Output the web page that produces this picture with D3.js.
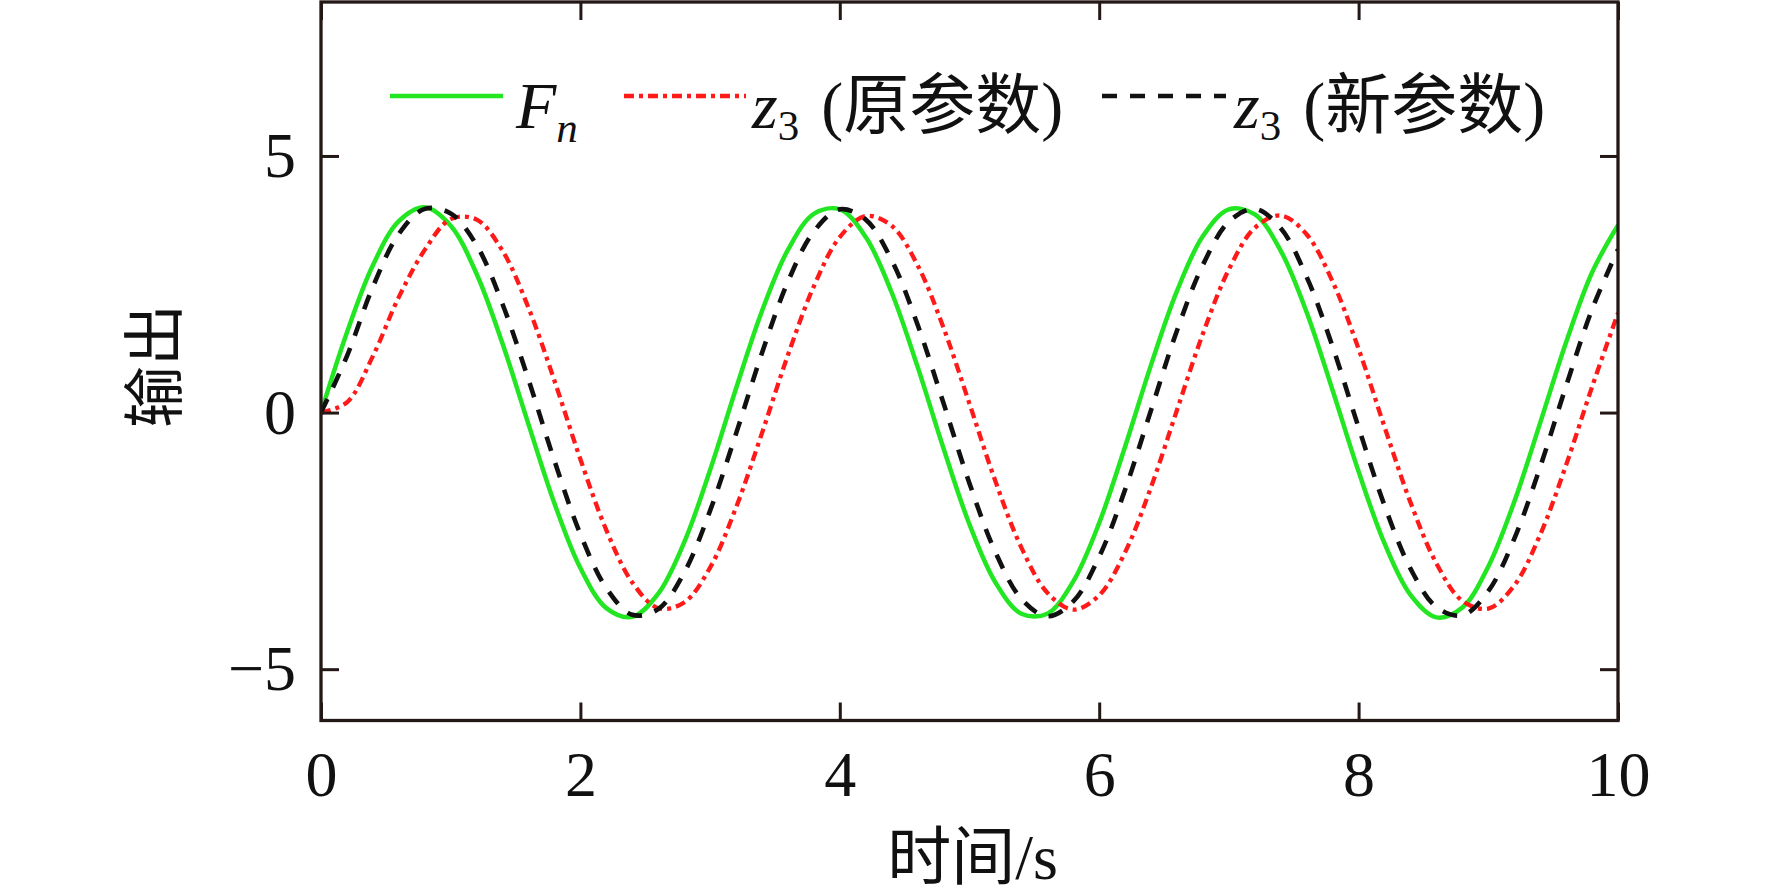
<!DOCTYPE html>
<html>
<head>
<meta charset="utf-8">
<script src="https://cdn.jsdelivr.net/npm/d3@7"></script>
<style>
  body { margin: 0; background: #fff; }
  svg { display: block; }
</style>
</head>
<body>
<div id="chart"></div>
<script>
// time axis (s), sampled every 0.2 s
const time = [0, 0.2, 0.4, 0.6, 0.8, 1.0, 1.2, 1.4, 1.6, 1.8,
    2.0, 2.2, 2.4, 2.6, 2.8, 3.0, 3.2, 3.4, 3.6, 3.8,
    4.0, 4.2, 4.4, 4.6, 4.8, 5.0, 5.2, 5.4, 5.6, 5.8,
    6.0, 6.2, 6.4, 6.6, 6.8, 7.0, 7.2, 7.4, 7.6, 7.8,
    8.0, 8.2, 8.4, 8.6, 8.8, 9.0, 9.2, 9.4, 9.6, 9.8, 10.0];

// F_n
const fn = [0, 1.56, 2.87, 3.73, 4.00, 3.64, 2.70, 1.34, -0.23, -1.77,
    -3.03, -3.81, -3.98, -3.53, -2.53, -1.12, 0.47, 1.98, 3.17, 3.87,
    3.96, 3.42, 2.34, 0.89, -0.70, -2.18, -3.31, -3.92, -3.92, -3.29,
    -2.15, -0.66, 0.93, 2.37, 3.44, 3.96, 3.86, 3.15, 1.95, 0.43,
    -1.15, -2.55, -3.55, -3.99, -3.80, -3.00, -1.74, -0.20, 1.37, 2.73, 3.65];

// z3 (原参数)
const z3Old = [0, 0.20, 1.10, 2.25, 3.17, 3.77, 3.76, 3.15, 2.04, 0.62,
    -0.91, -2.29, -3.31, -3.81, -3.70, -3.02, -1.85, -0.40, 1.12, 2.46,
    3.42, 3.83, 3.64, 2.87, 1.65, 0.17, -1.34, -2.63, -3.51, -3.84,
    -3.56, -2.72, -1.45, 0.05, 1.54, 2.79, 3.60, 3.84, 3.47, 2.55,
    1.24, -0.28, -1.75, -2.94, -3.67, -3.82, -3.37, -2.38, -1.02, 0.50, 1.94];

// z3 (新参数)
const z3New = [0, 1.10, 2.45, 3.48, 3.97, 3.88, 3.26, 2.11, 0.64, -0.94,
    -2.37, -3.42, -3.94, -3.83, -3.12, -1.91, -0.41, 1.16, 2.55, 3.53,
    3.96, 3.76, 2.97, 1.71, 0.18, -1.38, -2.72, -3.63, -3.97, -3.68,
    -2.81, -1.50, 0.05, 1.60, 2.88, 3.72, 3.97, 3.59, 2.64, 1.28,
    -0.29, -1.81, -3.04, -3.79, -3.95, -3.48, -2.46, -1.06, 0.52, 2.01, 3.18];

const xTicks = [0, 2, 4, 6, 8, 10];
const yTicks = [-5, 0, 5];

const W = 1772, H = 895;
const plotLeft = 321, plotRight = 1618, plotTop = 2, plotBottom = 720.5;
const font = "'Times New Roman', 'Liberation Serif', 'Noto Sans CJK SC', serif";
const axisColor = "#231815";

const svg = d3.select("#chart").append("svg")
    .attr("width", W)
    .attr("height", H)
    .style("background", "#fff");

const x = d3.scaleLinear().domain([0, 10]).range([plotLeft, plotRight]);
const y = d3.scaleLinear().domain([-6, 8]).range([plotBottom, plotTop]);

svg.append("clipPath").attr("id", "plotClip")
    .append("rect")
    .attr("x", plotLeft).attr("y", plotTop)
    .attr("width", plotRight - plotLeft).attr("height", plotBottom - plotTop);

// series
const series = [
    { values: z3Old, color: "#ff1a1a", width: 4.3, dash: "10,5,4,5" },
    { values: z3New, color: "#111111", width: 4.6, dash: "15,13" },
    { values: fn, color: "#22e622", width: 4.5, dash: null }
];

const line = d3.line()
    .x((d, i) => x(time[i]))
    .y(d => y(d))
    .curve(d3.curveCatmullRom.alpha(0.5));

const plot = svg.append("g").attr("clip-path", "url(#plotClip)");
// green first so it sits under the dashed lines like the original
[series[2], series[0], series[1]].forEach(s => {
    plot.append("path")
        .datum(s.values)
        .attr("fill", "none")
        .attr("stroke", s.color)
        .attr("stroke-width", s.width)
        .attr("stroke-dasharray", s.dash)
        .attr("d", line);
});

// axes (ticks pointing inward on all four sides)
function styleAxis(g) {
    g.select(".domain").remove();
    g.selectAll(".tick line").attr("stroke", axisColor).attr("stroke-width", 3);
    g.selectAll(".tick text")
        .attr("fill", "#111")
        .attr("font-family", font)
        .attr("font-size", 64);
}

svg.append("g")
    .attr("transform", `translate(0,${plotBottom})`)
    .call(d3.axisBottom(x).tickValues(xTicks).tickSizeInner(-18).tickSizeOuter(0).tickPadding(30))
    .call(styleAxis);

svg.append("g")
    .attr("transform", `translate(0,${plotTop})`)
    .call(d3.axisTop(x).tickValues(xTicks).tickSizeInner(-18).tickSizeOuter(0).tickFormat(""))
    .call(styleAxis);

svg.append("g")
    .attr("transform", `translate(${plotLeft},0)`)
    .call(d3.axisLeft(y).tickValues(yTicks).tickSizeInner(-18).tickSizeOuter(0).tickPadding(25))
    .call(styleAxis);

svg.append("g")
    .attr("transform", `translate(${plotRight},0)`)
    .call(d3.axisRight(y).tickValues(yTicks).tickSizeInner(-18).tickSizeOuter(0).tickFormat(""))
    .call(styleAxis);

// frame
svg.append("rect")
    .attr("x", plotLeft).attr("y", plotTop)
    .attr("width", plotRight - plotLeft).attr("height", plotBottom - plotTop)
    .attr("fill", "none")
    .attr("stroke", axisColor)
    .attr("stroke-width", 3.3);

// axis titles
svg.append("text")
    .attr("transform", "translate(156,366) rotate(-90)")
    .attr("text-anchor", "middle")
    .attr("dominant-baseline", "central")
    .attr("font-family", font)
    .attr("font-size", 62)
    .attr("fill", "#111")
    .text("输出");

svg.append("text")
    .attr("x", (plotLeft + plotRight) / 2 + 3)
    .attr("y", 879)
    .attr("text-anchor", "middle")
    .attr("font-family", font)
    .attr("font-size", 64)
    .attr("fill", "#111")
    .text("时间/s");

// legend
const legY = 96, legBase = 128;
const legend = svg.append("g");

function legLine(x0, x1, s) {
    legend.append("line")
        .attr("x1", x0).attr("x2", x1)
        .attr("y1", legY).attr("y2", legY)
        .attr("stroke", s.color)
        .attr("stroke-width", s.width)
        .attr("stroke-dasharray", s.dash);
}

legLine(390, 503, series[2]);
legLine(624, 746, series[0]);
legLine(1102, 1226, series[1]);

const t1 = legend.append("text")
    .attr("x", 516).attr("y", legBase)
    .attr("font-family", font).attr("font-size", 66).attr("fill", "#111");
t1.append("tspan").attr("font-style", "italic").text("F");
t1.append("tspan").attr("font-style", "italic").attr("font-size", 43).attr("dy", 14).text("n");

function zLabel(x0, txt) {
    const t = legend.append("text")
        .attr("x", x0).attr("y", legBase)
        .attr("font-family", font).attr("font-size", 66).attr("fill", "#111");
    t.append("tspan").attr("font-style", "italic").text("z");
    t.append("tspan").attr("font-size", 43).attr("dy", 12).text("3");
    t.append("tspan").attr("dy", -12).attr("dx", 22).text(txt);
}
zLabel(752, "(原参数)");
zLabel(1234, "(新参数)");
</script>
</body>
</html>
